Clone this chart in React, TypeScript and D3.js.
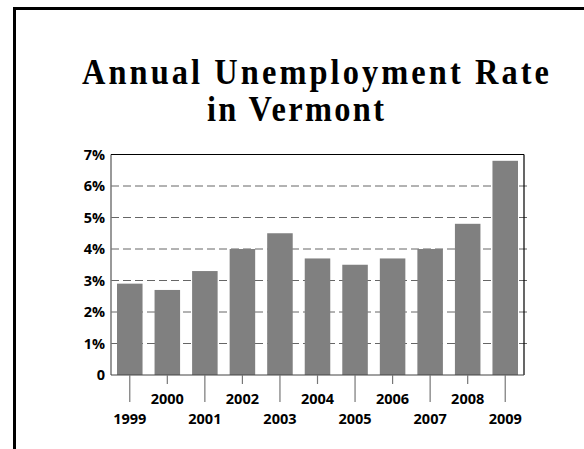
import React from "react";
import * as d3 from "d3";

const years = ["1999","2000","2001","2002","2003","2004","2005","2006","2007","2008","2009"];
const rates = [2.9, 2.7, 3.3, 4.0, 4.5, 3.7, 3.5, 3.7, 4.0, 4.8, 6.8];
const yTicks = [0, 1, 2, 3, 4, 5, 6, 7];
const yTickLabels = ["0", "1%", "2%", "3%", "4%", "5%", "6%", "7%"];
const titleLines = ["Annual Unemployment Rate", "in Vermont"];

const W = 584, H = 449;
const plot = { left: 111, right: 524, top: 154.5, bottom: 375 };
const SX = 0.9;

export default function App() {
  const x = d3.scaleBand<string>().domain(years).range([plot.left, plot.right]).paddingInner(0.32).paddingOuter(0.16);
  const y = d3.scaleLinear().domain([0, 7]).range([plot.bottom, plot.top]);
  const labelFont = "'Open Sans', sans-serif";
  return (
    <svg width={W} height={H} style={{ position: "absolute", left: 0, top: 0, background: "#fff" }}>
      {/* frame */}
      <line x1={14.5} y1={8.5} x2={14.5} y2={H} stroke="#000" strokeWidth={3} />
      <line x1={13} y1={8.5} x2={W} y2={8.5} stroke="#000" strokeWidth={3} />
      {/* title */}
      <g transform={`scale(${SX},1)`}>
        <text x={82 / SX} y={84} fontFamily="'Liberation Serif', serif" fontSize={36} fontWeight="bold" textLength={467 / SX} lengthAdjust="spacing" fill="#000">{titleLines[0]}</text>
        <text x={207 / SX} y={121} fontFamily="'Liberation Serif', serif" fontSize={36} fontWeight="bold" textLength={177 / SX} lengthAdjust="spacing" fill="#000">{titleLines[1]}</text>
      </g>
      {/* gridlines */}
      {yTicks.filter(t => t > 0 && t < 7).map(t => (
        <line key={t} x1={plot.left} x2={plot.right + 3} y1={y(t)} y2={y(t)} stroke="#666" strokeWidth={1} strokeDasharray="8,4" />
      ))}
      {/* bars */}
      {years.map((yr, i) => (
        <rect key={yr} x={x(yr)} y={y(rates[i])} width={x.bandwidth()} height={y(0) - y(rates[i])} fill="#808080" />
      ))}
      {/* axes frame */}
      <line x1={plot.left} x2={plot.left} y1={plot.top} y2={plot.bottom} stroke="#777" strokeWidth={1.5} />
      <line x1={plot.left} x2={plot.right} y1={plot.top} y2={plot.top} stroke="#000" strokeWidth={1.2} />
      <line x1={plot.right} x2={plot.right} y1={plot.top} y2={plot.bottom} stroke="#000" strokeWidth={1.2} />
      <line x1={plot.left} x2={plot.right} y1={plot.bottom} y2={plot.bottom} stroke="#444" strokeWidth={1.2} />
      {/* y labels */}
      {yTicks.map((t, i) => (
        <text key={t} x={105} y={y(t)} dy="0.36em" textAnchor="end" fontFamily={labelFont} fontWeight="bold" fontSize={14.5} fill="#000">{yTickLabels[i]}</text>
      ))}
      {/* x ticks and labels */}
      {years.map((yr, i) => {
        const cx = (x(yr) as number) + x.bandwidth() / 2;
        const odd = i % 2 === 0;
        return (
          <g key={yr}>
            <line x1={cx} x2={cx} y1={plot.bottom} y2={odd ? 402 : 384} stroke="#777" strokeWidth={1.2} />
            <text x={cx} y={odd ? 423.5 : 404} textAnchor="middle" fontFamily={labelFont} fontWeight="bold" fontSize={14.5} fill="#000">{yr}</text>
          </g>
        );
      })}
    </svg>
  );
}
